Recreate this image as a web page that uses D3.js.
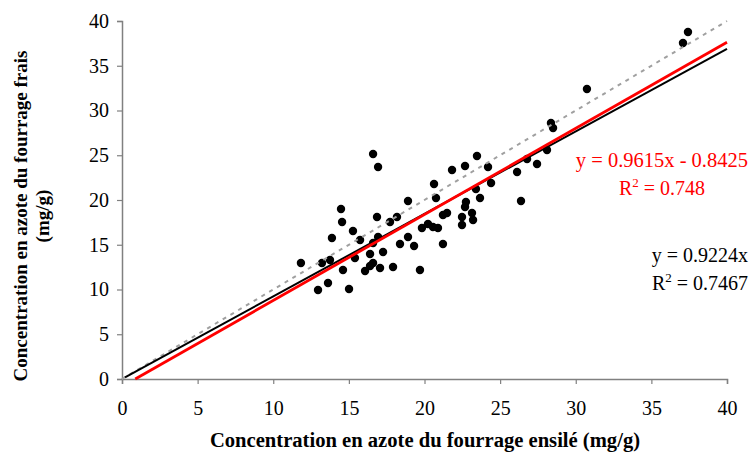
<!DOCTYPE html>
<html>
<head>
<meta charset="utf-8">
<script src="https://cdn.jsdelivr.net/npm/d3@7/dist/d3.min.js"></script>
<style>
  html, body { margin: 0; padding: 0; background: #fff; }
  svg { display: block; font-family: "Liberation Serif", "Times New Roman", serif; }
  svg text { font-family: "Liberation Serif", "Times New Roman", serif; }
</style>
</head>
<body>
<svg id="chart" width="751" height="459"></svg>
<script>
// Data: ensiled (x) vs fresh (y) forage nitrogen, mg/g
const ensile = [11.83,12.96,13.22,13.62,13.75,13.88,14.48,14.55,14.61,15.01,15.27,15.40,15.74,16.07,16.40,16.40,16.60,16.60,16.60,16.86,16.93,16.93,17.06,17.26,17.72,17.92,18.18,18.38,18.91,18.91,19.31,19.70,19.83,20.23,20.56,20.63,20.76,20.89,21.22,21.22,21.49,21.82,22.48,22.48,22.68,22.74,22.68,23.14,23.21,23.40,23.47,23.67,24.20,24.40,26.12,26.38,26.78,27.44,28.10,28.36,28.50,30.74,37.09,37.42];
const frais  = [12.96,9.94,12.96,10.73,13.30,15.75,18.99,17.54,12.18,10.06,16.54,13.52,15.53,12.07,13.97,12.63,25.14,15.20,12.96,18.10,23.69,15.87,12.40,14.19,17.54,12.51,18.10,15.08,19.89,15.87,14.86,12.18,16.87,17.32,16.98,21.79,20.22,16.87,18.32,15.08,18.55,23.35,18.10,17.21,23.80,19.78,19.22,18.55,17.77,21.23,24.92,20.22,23.69,21.90,23.13,19.89,24.58,24.02,25.59,28.60,28.04,32.40,37.54,38.77];

const xTicks = [0,5,10,15,20,25,30,35,40];
const yTicks = [0,5,10,15,20,25,30,35,40];

// Trendlines: [slope, intercept]
const lineRed = [0.9615, -0.8425];
const lineBlack = [0.9224, 0];
const lineOneToOne = [1, 0];

const labelRed = ["y = 0.9615x - 0.8425", "0.748"];
const labelBlack = ["y = 0.9224x", "0.7467"];
const xTitle = "Concentration en azote du fourrage ensilé (mg/g)";
const yTitle = ["Concentration en azote du fourrage frais", "(mg/g)"];

const svg = d3.select("#chart");
const x = d3.scaleLinear().domain([0, 40]).range([122, 727]);
const y = d3.scaleLinear().domain([0, 40]).range([379, 21]);

const axisColor = "#808080";
const FS = "20px";

// Axes
const gx = svg.append("g").attr("transform", `translate(0,${y(0)})`)
  .call(d3.axisBottom(x).tickValues(xTicks).tickSize(5).tickPadding(17).tickFormat(d3.format("d")));
const gy = svg.append("g").attr("transform", `translate(${x(0)},0)`)
  .call(d3.axisLeft(y).tickValues(yTicks).tickSize(5).tickPadding(8).tickFormat(d3.format("d")));
[gx, gy].forEach(g => {
  g.attr("font-family", null).attr("font-size", null);
  g.select(".domain").attr("stroke", axisColor).attr("stroke-width", 1.5);
  g.selectAll(".tick line").attr("stroke", axisColor).attr("stroke-width", 1.2);
  g.selectAll(".tick text").attr("fill", "#000").style("font-size", FS);
});

// Points
const pts = ensile.map((v, i) => [v, frais[i]]);
svg.append("g").selectAll("circle").data(pts).join("circle")
  .attr("cx", d => x(d[0])).attr("cy", d => y(d[1])).attr("r", 4.2).attr("fill", "#000");

// Lines
function seg(p, x0, x1) {
  return [[x0, p[0] * x0 + p[1]], [x1, p[0] * x1 + p[1]]];
}
const line = d3.line().x(d => x(d[0])).y(d => y(d[1]));
svg.append("path").attr("d", line(seg(lineOneToOne, 0, 40)))
  .attr("stroke", "#a0a0a0").attr("stroke-width", 2).attr("stroke-dasharray", "4,5").attr("fill", "none");
svg.append("path").attr("d", line(seg(lineBlack, 0.2, 40)))
  .attr("stroke", "#000").attr("stroke-width", 2).attr("fill", "none");
svg.append("path").attr("d", line(seg(lineRed, -lineRed[1] / lineRed[0], 40)))
  .attr("stroke", "#ff0000").attr("stroke-width", 2.8).attr("fill", "none");

// Annotations
function r2(xPos, yBase, anchor, value, color) {
  const t = svg.append("text").attr("x", xPos).attr("y", yBase).attr("text-anchor", anchor)
    .attr("fill", color).style("font-size", FS);
  t.append("tspan").text("R");
  t.append("tspan").attr("dy", -8).style("font-size", "13px").text("2");
  t.append("tspan").attr("dy", 8).text(" = " + value);
}
svg.append("text").attr("x", 748).attr("y", 167).attr("text-anchor", "end")
  .attr("fill", "#ff0000").style("font-size", "20.5px").text(labelRed[0]);
r2(662, 195, "middle", labelRed[1], "#ff0000");
svg.append("text").attr("x", 748).attr("y", 262).attr("text-anchor", "end")
  .attr("fill", "#000").style("font-size", FS).text(labelBlack[0]);
r2(748, 290, "end", labelBlack[1], "#000");

// Axis titles
svg.append("text").attr("x", 425).attr("y", 447).attr("text-anchor", "middle")
  .style("font-size", "20.6px").style("font-weight", "bold").text(xTitle);
const yt = svg.append("text").attr("transform", "translate(0,216) rotate(-90)")
  .attr("text-anchor", "middle").style("font-size", "19px").style("font-weight", "bold");
yt.append("tspan").attr("x", 0).attr("y", 27).text(yTitle[0]);
yt.append("tspan").attr("x", 0).attr("y", 49).text(yTitle[1]);
</script>
</body>
</html>
